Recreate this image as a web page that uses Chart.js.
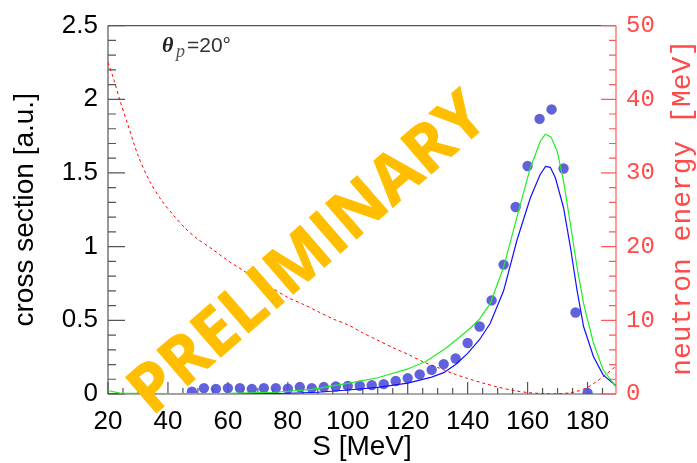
<!DOCTYPE html>
<html><head><meta charset="utf-8">
<script src="https://cdn.jsdelivr.net/npm/chart.js@4"></script>
<style>html,body{margin:0;padding:0;background:#fff;} #wrap{width:697px;height:463px;}</style>
</head><body><div id="wrap"><canvas id="c" width="697" height="463"></canvas></div>
<script>
// ---- tick labels ----
const xTickLabels = [20, 40, 60, 80, 100, 120, 140, 160, 180];
const yTickLabels = [0, 0.5, 1, 1.5, 2, 2.5];
const y2TickLabels = [0, 10, 20, 30, 40, 50];

// ---- measured points (cross section) ----
const dataS = [48, 52, 56, 60, 64, 68, 72, 76, 80, 84, 88, 92, 96, 100, 104, 108, 112, 116, 120, 124, 128, 132, 136, 140, 144, 148, 152, 156, 160, 164, 168, 172, 176, 180];
const dataXS = [0.016, 0.04, 0.035, 0.04, 0.04, 0.034, 0.04, 0.04, 0.036, 0.047, 0.04, 0.047, 0.051, 0.055, 0.056, 0.06, 0.067, 0.088, 0.108, 0.133, 0.164, 0.203, 0.241, 0.346, 0.458, 0.635, 0.878, 1.269, 1.547, 1.867, 1.931, 1.530, 0.553, 0.007];

// ---- calculation 1 (blue) ----
const blueS = [20, 40, 60, 80, 90, 100, 110, 120, 128, 132, 136, 140, 144, 147.5, 152, 156.4, 160.9, 164.2, 166, 167.6, 169.3, 172, 174.3, 176.5, 178.7, 182, 185.2, 189.5];
const blueXS = [0, 0, 0.001, 0.005, 0.012, 0.027, 0.045, 0.074, 0.115, 0.145, 0.2, 0.276, 0.37, 0.478, 0.70, 1.04, 1.33, 1.49, 1.545, 1.538, 1.466, 1.264, 0.995, 0.703, 0.456, 0.253, 0.13, 0.055];

// ---- calculation 2 (green) ----
const greenS = [20, 24, 40, 60, 76, 88, 100, 110, 120, 126, 132, 137, 141, 144, 147.5, 152, 156.4, 160.9, 164.2, 165.9, 167.8, 169.9, 172, 174.3, 176.5, 178.7, 182, 185.2, 189.5];
const greenXS = [0.024, 0.006, 0.003, 0.004, 0.012, 0.032, 0.072, 0.11, 0.17, 0.22, 0.3, 0.38, 0.45, 0.51, 0.613, 0.86, 1.197, 1.534, 1.714, 1.763, 1.745, 1.646, 1.444, 1.152, 0.86, 0.613, 0.344, 0.164, 0.05];

// ---- neutron energy (red dashed, right axis) ----
const neutronS = [20, 22, 24, 26.6, 30, 34, 38, 42, 46, 50, 55, 60, 65, 70, 75, 80, 85, 90, 95, 100, 105, 110, 115, 120, 125, 130, 135, 140, 145, 150, 155, 160, 165, 170, 174, 176.4, 180, 183, 186, 189.5];
const neutronE = [45.0, 42.6, 39.8, 36.6, 32.4, 28.8, 26.2, 24.2, 22.4, 21.0, 19.6, 18.1, 16.8, 15.4, 14.3, 13.1, 12.2, 11.2, 10.2, 9.4, 8.3, 7.3, 6.3, 5.4, 4.4, 3.6, 2.8, 2.1, 1.5, 0.95, 0.5, 0.2, 0.06, 0.03, 0.15, 0.35, 0.9, 1.7, 2.6, 3.8];

const pts = (xs, ys) => xs.map((x, i) => ({x: x, y: ys[i]}));

const FRAME = '#555555';
const RED_AX = '#ff5a5a';
const RED_TXT = '#ff4a4a';

const decor = {
  id: 'rootDecor',
  beforeDatasetsDraw(chart) {
    const {ctx, chartArea: a, scales} = chart;
    const xs = scales.x, ys = scales.y, y2 = scales.y2;
    ctx.save();
    ctx.lineWidth = 1.2;
    ctx.strokeStyle = FRAME;
    ctx.beginPath();
    ctx.moveTo(a.left, a.top); ctx.lineTo(a.right, a.top);
    ctx.moveTo(a.left, a.top); ctx.lineTo(a.left, a.bottom);
    ctx.moveTo(a.left, a.bottom); ctx.lineTo(a.right, a.bottom);
    ctx.stroke();
    ctx.beginPath();
    for (let i = 0; i <= 25; i++) {
      const py = ys.getPixelForValue(i / 10);
      const len = (i % 5 === 0) ? 17 : 8;
      ctx.moveTo(a.left, py); ctx.lineTo(a.left + len, py);
    }
    for (let v = 20; v <= 189; v += 5) {
      const px = xs.getPixelForValue(v);
      const len = (v % 20 === 0) ? 12 : 6;
      ctx.moveTo(px, a.bottom); ctx.lineTo(px, a.bottom - len);
    }
    ctx.stroke();
    ctx.strokeStyle = RED_AX;
    ctx.beginPath();
    ctx.moveTo(a.right, a.top); ctx.lineTo(a.right, a.bottom);
    for (let v = 0; v <= 50; v += 2) {
      const py = y2.getPixelForValue(v);
      const len = (v % 10 === 0) ? 15 : 7;
      ctx.moveTo(a.right, py); ctx.lineTo(a.right - len, py);
    }
    ctx.stroke();
    ctx.restore();
  },
  afterDatasetsDraw(chart) {
    const {ctx, chartArea: a} = chart;
    ctx.save();
    const fs = 66;
    ctx.translate(a.left + 198, a.top + 226);
    ctx.rotate(-41 * Math.PI / 180);
    ctx.font = 'bold ' + fs + 'px "Open Sans"';
    ctx.fillStyle = '#ffbf00';
    ctx.strokeStyle = '#ffbf00';
    ctx.lineWidth = 1;
    ctx.lineJoin = 'round';
    ctx.textAlign = 'center';
    ctx.textBaseline = 'alphabetic';
    ctx.fillText('PRELIMINARY', 0, fs * 0.357);
    ctx.strokeText('PRELIMINARY', 0, fs * 0.357);
    ctx.restore();
  },
  afterDraw(chart) {
    const {ctx, chartArea: a} = chart;
    ctx.save();
    ctx.translate(690, (a.top + a.bottom) / 2 - 2);
    ctx.rotate(-Math.PI / 2);
    ctx.font = '28px "Liberation Mono"';
    ctx.fillStyle = RED_TXT;
    ctx.textAlign = 'center';
    ctx.textBaseline = 'alphabetic';
    ctx.fillText('neutron energy [MeV]', 0, 0);
    ctx.restore();
    ctx.save();
    ctx.textBaseline = 'alphabetic';
    ctx.textAlign = 'left';
    ctx.fillStyle = '#222';
    ctx.font = 'italic bold 22px "Liberation Serif"';
    ctx.fillText('\u03b8', a.left + 54, 52);
    ctx.fillStyle = '#555';
    ctx.font = 'italic 18px "Liberation Serif"';
    ctx.fillText('p', a.left + 68, 57);
    ctx.fillStyle = '#333';
    ctx.font = '21px "Liberation Sans"';
    ctx.fillText('=20\u00b0', a.left + 79, 52);
    ctx.restore();
  }
};

const cfg = {
  type: 'line',
  data: {
    datasets: [
      { type: 'scatter', data: pts(dataS, dataXS), yAxisID: 'y', showLine: false,
        pointRadius: 5.2, pointBackgroundColor: 'rgba(80,80,215,0.9)', pointBorderWidth: 0, order: 3 },
      { data: pts(blueS, blueXS), yAxisID: 'y', borderColor: '#1010ff', borderWidth: 1.2,
        pointRadius: 0, tension: 0, fill: false, order: 1 },
      { data: pts(greenS, greenXS), yAxisID: 'y', borderColor: '#22ee22', borderWidth: 1.2,
        pointRadius: 0, tension: 0, fill: false, order: 0 },
      { data: pts(neutronS, neutronE), yAxisID: 'y2', borderColor: '#ff0000', borderWidth: 1,
        borderDash: [3, 3], pointRadius: 0, tension: 0.3, fill: false, order: 2 }
    ]
  },
  options: {
    responsive: false,
    animation: false,
    devicePixelRatio: 1,
    layout: { padding: { top: 23, left: 0, right: 0, bottom: 0 } },
    plugins: { legend: { display: false }, tooltip: { enabled: false } },
    scales: {
      x: {
        type: 'linear', position: 'bottom', min: 20, max: 189.5,
        afterBuildTicks: s => { s.ticks = xTickLabels.map(v => ({ value: v })); },
        afterFit: s => { s.height = 69; },
        grid: { display: false, drawTicks: false },
        border: { display: false },
        ticks: { font: { family: 'Liberation Sans', size: 26 }, color: '#000', padding: 12, maxRotation: 0, autoSkip: false,
          callback: v => String(v) },
        title: { display: true, text: 'S [MeV]', color: '#000',
          font: { family: 'Liberation Sans', size: 28, lineHeight: 1 }, padding: { top: 0, bottom: 2 } }
      },
      y: {
        type: 'linear', position: 'left', min: 0, max: 2.5,
        afterBuildTicks: s => { s.ticks = yTickLabels.map(v => ({ value: v })); },
        afterFit: s => { s.width = 108; },
        grid: { display: false, drawTicks: false },
        border: { display: false },
        ticks: { font: { family: 'Liberation Sans', size: 26 }, color: '#000', padding: 10,
          callback: v => String(v) },
        title: { display: true, text: 'cross section [a.u.]', color: '#000',
          font: { family: 'Liberation Sans', size: 28, lineHeight: 1 }, padding: { top: 11, bottom: 0 } }
      },
      y2: {
        type: 'linear', position: 'right', min: 0, max: 50,
        afterBuildTicks: s => { s.ticks = y2TickLabels.map(v => ({ value: v })); },
        afterFit: s => { s.width = 81; },
        grid: { display: false, drawTicks: false, drawOnChartArea: false },
        border: { display: false },
        ticks: { font: { family: 'Liberation Mono', size: 24 }, color: RED_TXT, padding: 10,
          callback: v => String(v) }
      }
    }
  },
  plugins: [decor]
};

new Chart(document.getElementById('c'), cfg);
</script>
</body></html>
